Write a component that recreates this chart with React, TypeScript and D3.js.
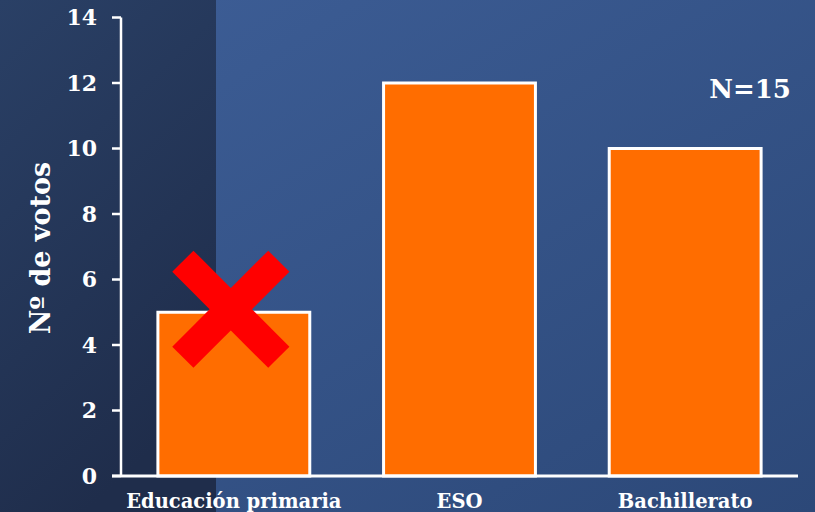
import React from "react";
import * as d3 from "d3";

const categories = ["Educación primaria", "ESO", "Bachillerato"];
const votes = [5, 12, 10];
const yTicks = [0, 2, 4, 6, 8, 10, 12, 14];
const yLabel = "Nº de votos";
const nLabel = "N=15";
const crossedCategory = "Educación primaria";

const W = 815;
const H = 512;
const FONT = "'DejaVu Serif', 'Liberation Serif', serif";

export default function App() {
  const x = d3.scaleBand<string>().domain(categories).range([121, 798]).paddingInner(0.327).paddingOuter(0.1635);
  const y = d3.scaleLinear().domain([0, 14]).range([476, 17.5]);

  const cx = (x(crossedCategory) as number) + x.bandwidth() / 2 - 3;
  const cy = y(5) - 3;
  const arm = 48;

  return (
    <svg width={W} height={H} style={{ position: "absolute", left: 0, top: 0, display: "block" }}>
      <defs>
        <linearGradient id="bg" x1="0" y1="0" x2="1" y2="1">
          <stop offset="0%" stopColor="#3e5f98" />
          <stop offset="100%" stopColor="#2c4878" />
        </linearGradient>
        <linearGradient id="dark" x1="0" y1="0" x2="0.4" y2="1">
          <stop offset="0%" stopColor="#2a4066" />
          <stop offset="100%" stopColor="#1f2d4b" />
        </linearGradient>
      </defs>
      <rect x={0} y={0} width={W} height={H} fill="url(#bg)" />
      <rect x={0} y={0} width={216} height={H} fill="url(#dark)" />

      {/* bars */}
      {categories.map((c, i) => (
        <rect
          key={c}
          x={x(c) as number}
          y={y(votes[i])}
          width={x.bandwidth()}
          height={y(0) - y(votes[i])}
          fill="#ff6d00"
          stroke="#ffffff"
          strokeWidth={3}
        />
      ))}

      {/* y axis */}
      <line x1={121} x2={121} y1={y(14)} y2={y(0)} stroke="#fff" strokeWidth={2.5} />
      {yTicks.map((t) => (
        <g key={t}>
          <line x1={112} x2={121} y1={y(t)} y2={y(t)} stroke="#fff" strokeWidth={2.5} />
          <text
            x={97}
            y={y(t)}
            dy="0.36em"
            textAnchor="end"
            fill="#fff"
            fontFamily={FONT}
            fontWeight="bold"
            fontSize={22}
          >
            {t}
          </text>
        </g>
      ))}
      {/* baseline */}
      <line x1={112} x2={798} y1={y(0)} y2={y(0)} stroke="#fff" strokeWidth={3} />

      {/* category labels */}
      {categories.map((c) => (
        <text
          key={c}
          x={(x(c) as number) + x.bandwidth() / 2}
          y={508}
          textAnchor="middle"
          fill="#fff"
          fontFamily={FONT}
          fontWeight="bold"
          fontSize={19.5}
        >
          {c}
        </text>
      ))}

      {/* y label */}
      <text
        transform={`translate(50, ${248}) rotate(-90)`}
        textAnchor="middle"
        fill="#fff"
        fontFamily={FONT}
        fontWeight="bold"
        fontSize={27}
      >
        {yLabel}
      </text>

      {/* N label */}
      <text x={750} y={98} textAnchor="middle" fill="#fff" fontFamily={FONT} fontWeight="bold" fontSize={26}>
        {nLabel}
      </text>

      {/* red cross */}
      <g stroke="#ff0000" strokeWidth={30} strokeLinecap="butt">
        <line x1={cx - arm} y1={cy - arm} x2={cx + arm} y2={cy + arm} />
        <line x1={cx + arm} y1={cy - arm} x2={cx - arm} y2={cy + arm} />
      </g>
    </svg>
  );
}
